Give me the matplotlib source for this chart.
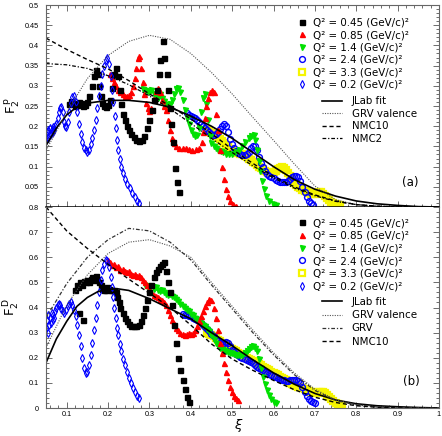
import numpy as np
import matplotlib
matplotlib.use("Agg")
import matplotlib.pyplot as plt
from matplotlib.lines import Line2D
from matplotlib.ticker import MultipleLocator

plt.rcParams.update({'font.family': 'DejaVu Sans', 'mathtext.fontset': 'dejavusans'})

# -------------------------------------------------------------------------
# data: columns are (xi, F2)
# -------------------------------------------------------------------------
XI_FIT = [0.05, 0.075, 0.1, 0.125, 0.15, 0.2, 0.25, 0.3, 0.35, 0.4, 0.45, 0.5, 0.55,
          0.6, 0.65, 0.7, 0.75, 0.8, 0.85, 0.9, 0.95, 1.0]
p_jlab = [0.152, 0.195, 0.228, 0.248, 0.257, 0.264, 0.264, 0.259, 0.247, 0.225, 0.2, 0.17,
          0.135, 0.1, 0.068, 0.044, 0.027, 0.015, 0.008, 0.004, 0.001, 0.0]

XI_CURVE = [0.05, 0.1, 0.15, 0.2, 0.25, 0.3, 0.35, 0.4, 0.45, 0.5, 0.55, 0.6, 0.65, 0.7,
            0.75, 0.8, 0.85, 0.9, 0.95, 1.0]
p_grvval = [0.14, 0.235, 0.318, 0.375, 0.41, 0.425, 0.415, 0.38, 0.333, 0.28, 0.222, 0.165,
            0.107, 0.052, 0.018, 0.006, 0.002, 0.0005, 0.0, 0.0]
p_nmc10 = [0.418, 0.39, 0.365, 0.342, 0.313, 0.28, 0.25, 0.218, 0.182, 0.143, 0.108, 0.076,
           0.05, 0.03, 0.015, 0.006, 0.002, 0.0, 0.0, 0.0]
p_nmc2 = [0.355, 0.352, 0.343, 0.325, 0.303, 0.275, 0.243, 0.207, 0.17, 0.135, 0.102, 0.072,
          0.047, 0.028, 0.014, 0.006, 0.002, 0.0, 0.0, 0.0]

XI_DFIT = [0.05, 0.075, 0.1, 0.125, 0.15, 0.175, 0.2, 0.225, 0.25, 0.3, 0.35, 0.375, 0.4,
           0.45, 0.5, 0.55, 0.6, 0.65, 0.7, 0.75, 0.8, 0.85, 0.9, 0.95, 1.0]
d_jlab = [0.18, 0.275, 0.345, 0.405, 0.44, 0.463, 0.473, 0.474, 0.468, 0.435, 0.395, 0.375,
          0.355, 0.3, 0.248, 0.192, 0.14, 0.095, 0.058, 0.032, 0.017, 0.009, 0.005, 0.002, 0.0]
d_grvval = [0.24, 0.41, 0.53, 0.615, 0.66, 0.67, 0.645, 0.6, 0.5, 0.405, 0.31, 0.22, 0.14,
            0.075, 0.033, 0.013, 0.005, 0.001, 0.0, 0.0]
d_grv = [0.36, 0.495, 0.6, 0.67, 0.715, 0.705, 0.66, 0.59, 0.49, 0.395, 0.3, 0.212, 0.133,
         0.07, 0.03, 0.012, 0.004, 0.001, 0.0, 0.0]
d_nmc10 = [0.8, 0.705, 0.635, 0.572, 0.513, 0.457, 0.4, 0.33, 0.255, 0.195, 0.15, 0.11,
           0.073, 0.043, 0.022, 0.009, 0.003, 0.0, 0.0, 0.0]

# proton, Q2 = 0.45
p_045 = np.array([
    [0.105, 0.255], [0.11, 0.262], [0.115, 0.258], [0.12, 0.25], [0.125, 0.253], [0.13, 0.26],
    [0.135, 0.257], [0.14, 0.249], [0.145, 0.252], [0.15, 0.26], [0.155, 0.275], [0.16, 0.3],
    [0.165, 0.325], [0.17, 0.34], [0.175, 0.33], [0.178, 0.3], [0.182, 0.275], [0.186, 0.258],
    [0.19, 0.25], [0.195, 0.248], [0.2, 0.253], [0.205, 0.265], [0.21, 0.295], [0.215, 0.33],
    [0.22, 0.345], [0.224, 0.325], [0.228, 0.29], [0.232, 0.255], [0.236, 0.23], [0.24, 0.215],
    [0.245, 0.2], [0.25, 0.19], [0.256, 0.18], [0.262, 0.173], [0.268, 0.166], [0.275, 0.163],
    [0.282, 0.166], [0.288, 0.176], [0.294, 0.195], [0.3, 0.215], [0.306, 0.24], [0.312, 0.265],
    [0.318, 0.29], [0.322, 0.33], [0.326, 0.365], [0.332, 0.412], [0.336, 0.37], [0.342, 0.33],
    [0.346, 0.29], [0.35, 0.245], [0.353, 0.205], [0.357, 0.16], [0.362, 0.097], [0.366, 0.062],
    [0.372, 0.036]])

# proton, Q2 = 0.85
p_085 = np.array([
    [0.205, 0.33], [0.21, 0.32], [0.215, 0.31], [0.22, 0.3], [0.225, 0.29], [0.23, 0.285],
    [0.235, 0.28], [0.24, 0.275], [0.245, 0.275], [0.25, 0.278], [0.255, 0.285], [0.26, 0.3],
    [0.264, 0.32], [0.268, 0.345], [0.272, 0.37], [0.276, 0.375], [0.28, 0.345], [0.284, 0.31],
    [0.288, 0.28], [0.292, 0.258], [0.296, 0.245], [0.3, 0.238], [0.305, 0.245], [0.31, 0.268],
    [0.315, 0.288], [0.32, 0.295], [0.325, 0.285], [0.33, 0.265], [0.335, 0.25], [0.34, 0.24],
    [0.345, 0.215], [0.35, 0.19], [0.355, 0.172], [0.36, 0.158], [0.365, 0.15], [0.372, 0.147],
    [0.38, 0.145], [0.388, 0.147], [0.396, 0.143], [0.404, 0.142], [0.412, 0.144], [0.42, 0.147],
    [0.426, 0.16], [0.43, 0.185], [0.434, 0.22], [0.438, 0.25], [0.442, 0.27], [0.447, 0.285],
    [0.452, 0.29], [0.457, 0.285], [0.462, 0.23], [0.466, 0.19], [0.47, 0.14], [0.475, 0.1],
    [0.48, 0.07], [0.485, 0.045], [0.49, 0.028], [0.496, 0.015], [0.502, 0.007], [0.51, 0.003]])

# proton, Q2 = 1.4
p_14 = np.array([
    [0.285, 0.292], [0.29, 0.29], [0.295, 0.288], [0.3, 0.285], [0.305, 0.29], [0.31, 0.28],
    [0.315, 0.275], [0.32, 0.27], [0.325, 0.28], [0.33, 0.27], [0.335, 0.262], [0.34, 0.255],
    [0.345, 0.25], [0.35, 0.255], [0.355, 0.265], [0.36, 0.28], [0.365, 0.292], [0.37, 0.295],
    [0.375, 0.285], [0.38, 0.265], [0.385, 0.24], [0.39, 0.22], [0.395, 0.205], [0.4, 0.19],
    [0.405, 0.18], [0.41, 0.175], [0.415, 0.178], [0.42, 0.195], [0.425, 0.235], [0.43, 0.27],
    [0.434, 0.28], [0.438, 0.255], [0.442, 0.215], [0.446, 0.175], [0.45, 0.158], [0.455, 0.15],
    [0.46, 0.145], [0.466, 0.14], [0.472, 0.138], [0.478, 0.135], [0.485, 0.132], [0.492, 0.13],
    [0.5, 0.132], [0.508, 0.135], [0.516, 0.14], [0.524, 0.15], [0.532, 0.16], [0.54, 0.17],
    [0.546, 0.175], [0.552, 0.178], [0.556, 0.165], [0.56, 0.14], [0.564, 0.115], [0.568, 0.09],
    [0.572, 0.065], [0.577, 0.045], [0.583, 0.028], [0.59, 0.015], [0.598, 0.008], [0.606, 0.004]])

# proton, Q2 = 2.4
p_24 = np.array([
    [0.39, 0.232], [0.395, 0.228], [0.4, 0.225], [0.405, 0.222], [0.41, 0.22], [0.415, 0.215],
    [0.42, 0.21], [0.425, 0.205], [0.43, 0.2], [0.435, 0.195], [0.44, 0.19], [0.445, 0.185],
    [0.45, 0.18], [0.455, 0.178], [0.46, 0.18], [0.465, 0.185], [0.47, 0.192], [0.475, 0.2],
    [0.48, 0.205], [0.485, 0.2], [0.49, 0.185], [0.495, 0.168], [0.5, 0.155], [0.505, 0.145],
    [0.51, 0.138], [0.515, 0.133], [0.52, 0.13], [0.525, 0.128], [0.53, 0.128], [0.535, 0.13],
    [0.54, 0.135], [0.545, 0.145], [0.55, 0.152], [0.555, 0.15], [0.56, 0.14], [0.565, 0.125],
    [0.57, 0.11], [0.575, 0.098], [0.58, 0.088], [0.585, 0.082], [0.59, 0.078], [0.595, 0.075],
    [0.6, 0.072], [0.605, 0.068], [0.61, 0.065], [0.615, 0.063], [0.62, 0.062], [0.625, 0.062],
    [0.63, 0.063], [0.635, 0.065], [0.64, 0.069], [0.645, 0.074], [0.65, 0.078], [0.655, 0.078],
    [0.66, 0.074], [0.665, 0.064], [0.67, 0.05], [0.675, 0.036], [0.68, 0.025], [0.685, 0.016],
    [0.69, 0.01], [0.695, 0.006]])

# proton, Q2 = 3.3
p_33 = np.array([
    [0.44, 0.19], [0.445, 0.187], [0.45, 0.183], [0.455, 0.18], [0.46, 0.176], [0.465, 0.172],
    [0.47, 0.168], [0.475, 0.163], [0.48, 0.158], [0.485, 0.153], [0.49, 0.148], [0.495, 0.144],
    [0.5, 0.14], [0.505, 0.137], [0.51, 0.135], [0.515, 0.133], [0.52, 0.132], [0.525, 0.13],
    [0.53, 0.127], [0.535, 0.124], [0.54, 0.12], [0.545, 0.116], [0.55, 0.112], [0.555, 0.108],
    [0.56, 0.104], [0.565, 0.1], [0.57, 0.096], [0.575, 0.093], [0.58, 0.09], [0.585, 0.087],
    [0.59, 0.085], [0.595, 0.085], [0.6, 0.087], [0.605, 0.09], [0.61, 0.094], [0.615, 0.097],
    [0.62, 0.098], [0.625, 0.097], [0.63, 0.092], [0.635, 0.085], [0.64, 0.077], [0.645, 0.068],
    [0.65, 0.06], [0.655, 0.054], [0.66, 0.05], [0.665, 0.046], [0.67, 0.043], [0.675, 0.04],
    [0.68, 0.037], [0.685, 0.034], [0.69, 0.032], [0.695, 0.031], [0.7, 0.032], [0.705, 0.034],
    [0.71, 0.036], [0.715, 0.036], [0.72, 0.033], [0.725, 0.028], [0.73, 0.022], [0.735, 0.017],
    [0.74, 0.013], [0.745, 0.01], [0.75, 0.008], [0.755, 0.006], [0.76, 0.005]])

# proton, Q2 = 0.2
p_02 = np.array([
    [0.05, 0.165], [0.052, 0.185], [0.054, 0.17], [0.056, 0.19], [0.058, 0.178], [0.06, 0.195],
    [0.062, 0.18], [0.064, 0.19], [0.066, 0.185], [0.068, 0.198], [0.07, 0.19], [0.072, 0.2],
    [0.075, 0.205], [0.078, 0.22], [0.081, 0.235], [0.084, 0.245], [0.087, 0.248], [0.09, 0.235],
    [0.093, 0.21], [0.096, 0.2], [0.099, 0.198], [0.102, 0.21], [0.106, 0.235], [0.11, 0.258],
    [0.114, 0.272], [0.118, 0.276], [0.122, 0.26], [0.126, 0.235], [0.13, 0.205], [0.134, 0.18],
    [0.138, 0.16], [0.142, 0.147], [0.146, 0.14], [0.15, 0.137], [0.154, 0.142], [0.158, 0.155],
    [0.162, 0.17], [0.166, 0.19], [0.17, 0.215], [0.174, 0.245], [0.178, 0.275], [0.182, 0.3],
    [0.186, 0.33], [0.19, 0.35], [0.194, 0.365], [0.198, 0.37], [0.202, 0.355], [0.206, 0.325],
    [0.209, 0.29], [0.212, 0.26], [0.216, 0.225], [0.219, 0.195], [0.222, 0.165], [0.225, 0.14],
    [0.228, 0.12], [0.232, 0.1], [0.236, 0.085], [0.241, 0.07], [0.247, 0.057], [0.252, 0.046],
    [0.258, 0.035], [0.264, 0.025], [0.27, 0.014], [0.275, 0.01]])

# deuteron, Q2 = 0.45
d_045 = np.array([
    [0.12, 0.47], [0.124, 0.49], [0.128, 0.48], [0.13, 0.38], [0.132, 0.5], [0.136, 0.49],
    [0.14, 0.35], [0.142, 0.505], [0.146, 0.5], [0.15, 0.51], [0.154, 0.5], [0.158, 0.515],
    [0.162, 0.52], [0.166, 0.51], [0.17, 0.525], [0.174, 0.515], [0.178, 0.5], [0.182, 0.49],
    [0.186, 0.475], [0.19, 0.468], [0.194, 0.47], [0.198, 0.48], [0.202, 0.475], [0.206, 0.47],
    [0.21, 0.47], [0.214, 0.47], [0.218, 0.46], [0.222, 0.44], [0.226, 0.42], [0.23, 0.4],
    [0.235, 0.38], [0.24, 0.36], [0.245, 0.345], [0.25, 0.335], [0.256, 0.328], [0.262, 0.325],
    [0.268, 0.325], [0.274, 0.33], [0.28, 0.345], [0.285, 0.37], [0.29, 0.4], [0.295, 0.43],
    [0.3, 0.46], [0.305, 0.49], [0.31, 0.52], [0.315, 0.54], [0.32, 0.555], [0.325, 0.565],
    [0.33, 0.575], [0.335, 0.58], [0.34, 0.545], [0.345, 0.5], [0.35, 0.46], [0.355, 0.41],
    [0.36, 0.33], [0.365, 0.26], [0.37, 0.2], [0.375, 0.15], [0.38, 0.11], [0.385, 0.075],
    [0.39, 0.045], [0.395, 0.025]])

# deuteron, Q2 = 0.85
d_085 = np.array([
    [0.2, 0.59], [0.205, 0.58], [0.21, 0.57], [0.215, 0.575], [0.22, 0.56], [0.225, 0.565],
    [0.23, 0.55], [0.235, 0.555], [0.24, 0.545], [0.245, 0.54], [0.25, 0.545], [0.255, 0.535],
    [0.26, 0.53], [0.265, 0.535], [0.27, 0.525], [0.275, 0.53], [0.28, 0.52], [0.285, 0.51],
    [0.29, 0.5], [0.295, 0.49], [0.3, 0.475], [0.305, 0.46], [0.31, 0.45], [0.315, 0.445],
    [0.32, 0.44], [0.325, 0.435], [0.33, 0.43], [0.335, 0.42], [0.34, 0.41], [0.345, 0.39],
    [0.35, 0.37], [0.355, 0.35], [0.36, 0.335], [0.365, 0.32], [0.37, 0.31], [0.375, 0.3],
    [0.38, 0.295], [0.385, 0.29], [0.39, 0.295], [0.395, 0.3], [0.4, 0.295], [0.405, 0.3],
    [0.41, 0.31], [0.415, 0.325], [0.42, 0.345], [0.425, 0.365], [0.43, 0.385], [0.435, 0.405],
    [0.44, 0.42], [0.445, 0.435], [0.45, 0.43], [0.455, 0.4], [0.46, 0.36], [0.465, 0.31],
    [0.47, 0.26], [0.475, 0.22], [0.48, 0.18], [0.485, 0.145], [0.49, 0.11], [0.495, 0.085],
    [0.5, 0.065], [0.505, 0.048], [0.51, 0.038], [0.515, 0.03]])

# deuteron, Q2 = 1.4
d_14 = np.array([
    [0.29, 0.49], [0.295, 0.485], [0.3, 0.48], [0.305, 0.485], [0.31, 0.475], [0.315, 0.48],
    [0.32, 0.47], [0.325, 0.465], [0.33, 0.47], [0.335, 0.46], [0.34, 0.455], [0.345, 0.45],
    [0.35, 0.455], [0.355, 0.445], [0.36, 0.44], [0.365, 0.435], [0.37, 0.425], [0.375, 0.415],
    [0.38, 0.405], [0.385, 0.4], [0.39, 0.39], [0.395, 0.385], [0.4, 0.375], [0.405, 0.37],
    [0.41, 0.36], [0.415, 0.355], [0.42, 0.345], [0.425, 0.34], [0.43, 0.33], [0.435, 0.325],
    [0.44, 0.315], [0.445, 0.305], [0.45, 0.29], [0.455, 0.275], [0.46, 0.26], [0.465, 0.25],
    [0.47, 0.24], [0.475, 0.235], [0.48, 0.23], [0.485, 0.225], [0.49, 0.222], [0.495, 0.22],
    [0.5, 0.218], [0.505, 0.215], [0.51, 0.212], [0.515, 0.21], [0.52, 0.21], [0.525, 0.212],
    [0.53, 0.218], [0.535, 0.225], [0.54, 0.235], [0.545, 0.242], [0.55, 0.245], [0.555, 0.24],
    [0.56, 0.225], [0.565, 0.195], [0.57, 0.16], [0.575, 0.125], [0.58, 0.095], [0.585, 0.07],
    [0.59, 0.05], [0.595, 0.035], [0.6, 0.025], [0.605, 0.018]])

# deuteron, Q2 = 2.4
d_24 = np.array([
    [0.38, 0.375], [0.385, 0.372], [0.39, 0.37], [0.395, 0.368], [0.4, 0.365], [0.405, 0.36],
    [0.41, 0.355], [0.415, 0.35], [0.42, 0.345], [0.425, 0.338], [0.43, 0.33], [0.435, 0.322],
    [0.44, 0.315], [0.445, 0.305], [0.45, 0.295], [0.455, 0.285], [0.46, 0.275], [0.465, 0.268],
    [0.47, 0.26], [0.475, 0.255], [0.48, 0.258], [0.485, 0.262], [0.49, 0.26], [0.495, 0.245],
    [0.5, 0.232], [0.505, 0.222], [0.51, 0.215], [0.515, 0.21], [0.52, 0.205], [0.525, 0.2],
    [0.53, 0.195], [0.535, 0.19], [0.54, 0.186], [0.545, 0.182], [0.55, 0.178], [0.555, 0.172],
    [0.56, 0.165], [0.565, 0.16], [0.57, 0.155], [0.575, 0.15], [0.58, 0.145], [0.585, 0.14],
    [0.59, 0.135], [0.595, 0.13], [0.6, 0.126], [0.605, 0.122], [0.61, 0.118], [0.615, 0.115],
    [0.62, 0.112], [0.625, 0.11], [0.63, 0.108], [0.635, 0.108], [0.64, 0.11], [0.645, 0.112],
    [0.65, 0.113], [0.655, 0.112], [0.66, 0.108], [0.665, 0.1], [0.67, 0.085], [0.675, 0.065],
    [0.68, 0.048], [0.685, 0.035], [0.69, 0.027], [0.695, 0.022], [0.7, 0.02]])

# deuteron, Q2 = 3.3
d_33 = np.array([
    [0.44, 0.3], [0.445, 0.295], [0.45, 0.29], [0.455, 0.285], [0.46, 0.278], [0.465, 0.272],
    [0.47, 0.265], [0.475, 0.26], [0.48, 0.255], [0.485, 0.25], [0.49, 0.245], [0.495, 0.24],
    [0.5, 0.235], [0.505, 0.23], [0.51, 0.225], [0.515, 0.22], [0.52, 0.215], [0.525, 0.21],
    [0.53, 0.205], [0.535, 0.2], [0.54, 0.196], [0.545, 0.192], [0.55, 0.188], [0.555, 0.184],
    [0.56, 0.18], [0.565, 0.175], [0.57, 0.17], [0.575, 0.165], [0.58, 0.16], [0.585, 0.155],
    [0.59, 0.15], [0.595, 0.145], [0.6, 0.14], [0.605, 0.135], [0.61, 0.13], [0.615, 0.125],
    [0.62, 0.12], [0.625, 0.115], [0.63, 0.11], [0.635, 0.105], [0.64, 0.1], [0.645, 0.096],
    [0.65, 0.092], [0.655, 0.088], [0.66, 0.085], [0.665, 0.082], [0.67, 0.078], [0.675, 0.075],
    [0.68, 0.072], [0.685, 0.068], [0.69, 0.065], [0.695, 0.062], [0.7, 0.06], [0.705, 0.06],
    [0.71, 0.062], [0.715, 0.064], [0.72, 0.062], [0.725, 0.058], [0.73, 0.05], [0.735, 0.042],
    [0.74, 0.034], [0.745, 0.026], [0.75, 0.02], [0.755, 0.015], [0.76, 0.01], [0.765, 0.007]])

# deuteron, Q2 = 0.2
d_02 = np.array([
    [0.05, 0.32], [0.052, 0.35], [0.054, 0.3], [0.056, 0.37], [0.058, 0.33], [0.06, 0.36],
    [0.062, 0.34], [0.064, 0.38], [0.066, 0.35], [0.068, 0.37], [0.07, 0.36], [0.072, 0.385],
    [0.075, 0.4], [0.078, 0.41], [0.081, 0.415], [0.084, 0.41], [0.087, 0.395], [0.09, 0.385],
    [0.094, 0.38], [0.098, 0.39], [0.102, 0.405], [0.106, 0.415], [0.11, 0.42], [0.114, 0.41],
    [0.118, 0.39], [0.122, 0.365], [0.126, 0.33], [0.13, 0.29], [0.134, 0.245], [0.138, 0.2],
    [0.142, 0.16], [0.146, 0.14], [0.15, 0.145], [0.154, 0.17], [0.158, 0.21], [0.162, 0.26],
    [0.166, 0.31], [0.17, 0.36], [0.174, 0.41], [0.178, 0.46], [0.182, 0.51], [0.186, 0.55],
    [0.19, 0.575], [0.194, 0.59], [0.198, 0.585], [0.202, 0.56], [0.206, 0.52], [0.209, 0.48],
    [0.212, 0.44], [0.215, 0.4], [0.218, 0.36], [0.221, 0.32], [0.224, 0.29], [0.228, 0.255],
    [0.232, 0.225], [0.236, 0.195], [0.24, 0.17], [0.245, 0.145], [0.25, 0.12], [0.255, 0.1],
    [0.26, 0.08], [0.265, 0.062], [0.27, 0.048], [0.275, 0.04]])

LABELS = ["Q² = 0.45 (GeV/c)²", "Q² = 0.85 (GeV/c)²", "Q² = 1.4 (GeV/c)²",
          "Q² = 2.4 (GeV/c)²", "Q² = 3.3 (GeV/c)²", "Q² = 0.2 (GeV/c)²"]

# marker styles in legend order
STYLES = [dict(marker='s', color='black', ms=3.6, ls='none'),
          dict(marker='^', color='#ff0000', ms=3.6, ls='none'),
          dict(marker='v', color='#00e000', ms=3.6, ls='none'),
          dict(marker='o', color='#0000ff', mfc='none', mew=1.0, ms=4.2, ls='none'),
          dict(marker='s', color='#f5f500', mfc='none', mew=1.6, ms=5.0, ls='none'),
          dict(marker='d', color='#0000ff', mfc='none', mew=0.8, ms=3.6, ls='none')]

TICK_FS = 5.2
LEG_FS = 7.4


def style_axes(ax, ymax, ymajor, yminor):
    ax.set_xlim(0.05, 1.0)
    ax.set_ylim(0, ymax)
    ax.xaxis.set_major_locator(MultipleLocator(0.1))
    ax.xaxis.set_minor_locator(MultipleLocator(0.02))
    ax.yaxis.set_major_locator(MultipleLocator(ymajor))
    ax.yaxis.set_minor_locator(MultipleLocator(yminor))
    ax.tick_params(which='both', direction='in', right=True, labelsize=TICK_FS, pad=2,
                   width=0.6, color='#555555')
    ax.tick_params(axis='y', pad=5)
    ax.tick_params(which='major', length=4.5)
    ax.tick_params(which='minor', length=2.2)
    for s in ax.spines.values():
        s.set_color('#666666')
        s.set_linewidth(0.8)


def draw_points(ax, series):
    # draw heavy-overlap sets first so the sparse ones stay visible
    for idx in [4, 3, 2, 1, 0, 5]:
        pts = series[idx]
        ax.plot(pts[:, 0], pts[:, 1], **STYLES[idx])


def add_legends(ax, line_handles, top_markers, top_lines, mark_sp, line_sp):
    mh = [Line2D([], [], **st) for st in STYLES]
    leg1 = ax.legend(mh, LABELS, loc='upper left', bbox_to_anchor=(0.638, top_markers),
                     frameon=False, fontsize=LEG_FS, handlelength=1.0, handletextpad=0.55,
                     borderpad=0, borderaxespad=0, labelspacing=mark_sp)
    ax.add_artist(leg1)
    ax.legend(line_handles, [h.get_label() for h in line_handles], loc='upper left',
              bbox_to_anchor=(0.702, top_lines), frameon=False, fontsize=LEG_FS,
              handlelength=1.95, handletextpad=0.95, borderpad=0, borderaxespad=0,
              labelspacing=line_sp)


fig = plt.figure(figsize=(4.42, 4.36), dpi=100)
ax1 = fig.add_axes([0.1041, 0.5252, 0.889, 0.4633])
ax2 = fig.add_axes([0.1041, 0.0642, 0.889, 0.4610], sharex=ax1)

# =========================================================================
# PANEL (a) — proton
# =========================================================================
style_axes(ax1, 0.5, 0.05, 0.01)
ax1.tick_params(which='both', top=True, labelbottom=False)
ax1.set_yticks(np.arange(0.05, 0.501, 0.05))
ax1.set_yticklabels(["0.05", "0.1", "0.15", "0.2", "0.25", "0.3", "0.35", "0.4", "0.45", "0.5"],
                    fontfamily='Liberation Sans')
ax1.spines['bottom'].set_color('black')
ax1.spines['bottom'].set_linewidth(1.1)

draw_points(ax1, [p_045, p_085, p_14, p_24, p_33, p_02])

l_jlab, = ax1.plot(XI_FIT, p_jlab, color='black', lw=1.2, label='JLab fit')
l_grvv, = ax1.plot(XI_CURVE, p_grvval, color='#555555', lw=0.8, ls=(0, (1, 1.2)),
                   label='GRV valence')
l_nmc10, = ax1.plot(XI_CURVE, p_nmc10, color='black', lw=1.0, ls=(0, (3, 2)), label='NMC10')
l_nmc2, = ax1.plot(XI_CURVE, p_nmc2, color='black', lw=0.9, ls=(0, (3, 1.5, 1, 1.5)),
                   label='NMC2')

add_legends(ax1, [l_jlab, l_grvv, l_nmc10, l_nmc2], 0.938, 0.548, 0.24, 0.25)
ax1.text(0.926, 0.119, "(a)", transform=ax1.transAxes, fontsize=8.5, ha='center', va='center')
ax1.set_ylabel(r"$\mathrm{F}_2^{\,\mathrm{p}}$", fontsize=9.5, rotation=90)
ax1.yaxis.set_label_coords(-0.062, 0.5)

# =========================================================================
# PANEL (b) — deuteron
# =========================================================================
style_axes(ax2, 0.8, 0.1, 0.02)
ax2.tick_params(which='both', top=False)
ax2.set_yticks(np.arange(0, 0.801, 0.1))
ax2.set_yticklabels(["0", "0.1", "0.2", "0.3", "0.4", "0.5", "0.6", "0.7", "0.8"],
                    fontfamily='Liberation Sans')
ax2.set_xticks(np.arange(0.1, 1.001, 0.1))
ax2.set_xticklabels(["0.1", "0.2", "0.3", "0.4", "0.5", "0.6", "0.7", "0.8", "0.9", "1"],
                    fontfamily='Liberation Sans')
ax2.spines['top'].set_visible(False)

draw_points(ax2, [d_045, d_085, d_14, d_24, d_33, d_02])

m_jlab, = ax2.plot(XI_DFIT, d_jlab, color='black', lw=1.2, label='JLab fit')
m_grvv, = ax2.plot(XI_CURVE, d_grvval, color='#555555', lw=0.8, ls=(0, (1, 1.2)),
                   label='GRV valence')
m_grv, = ax2.plot(XI_CURVE, d_grv, color='#333333', lw=0.9, ls=(0, (3, 1.5, 1, 1.5)),
                  label='GRV')
m_nmc10, = ax2.plot(XI_CURVE, d_nmc10, color='black', lw=1.0, ls=(0, (3, 2)), label='NMC10')

add_legends(ax2, [m_jlab, m_grvv, m_grv, m_nmc10], 0.945, 0.553, 0.26, 0.32)
ax2.text(0.929, 0.134, "(b)", transform=ax2.transAxes, fontsize=8.5, ha='center', va='center')
ax2.set_ylabel(r"$\mathrm{F}_2^{\,\mathrm{D}}$", fontsize=9.5, rotation=90)
ax2.yaxis.set_label_coords(-0.062, 0.5)
ax2.set_xlabel(r"$\xi$", fontsize=9.5)
ax2.xaxis.set_label_coords(0.49, -0.045)

fig.savefig("out.png", dpi=100)
